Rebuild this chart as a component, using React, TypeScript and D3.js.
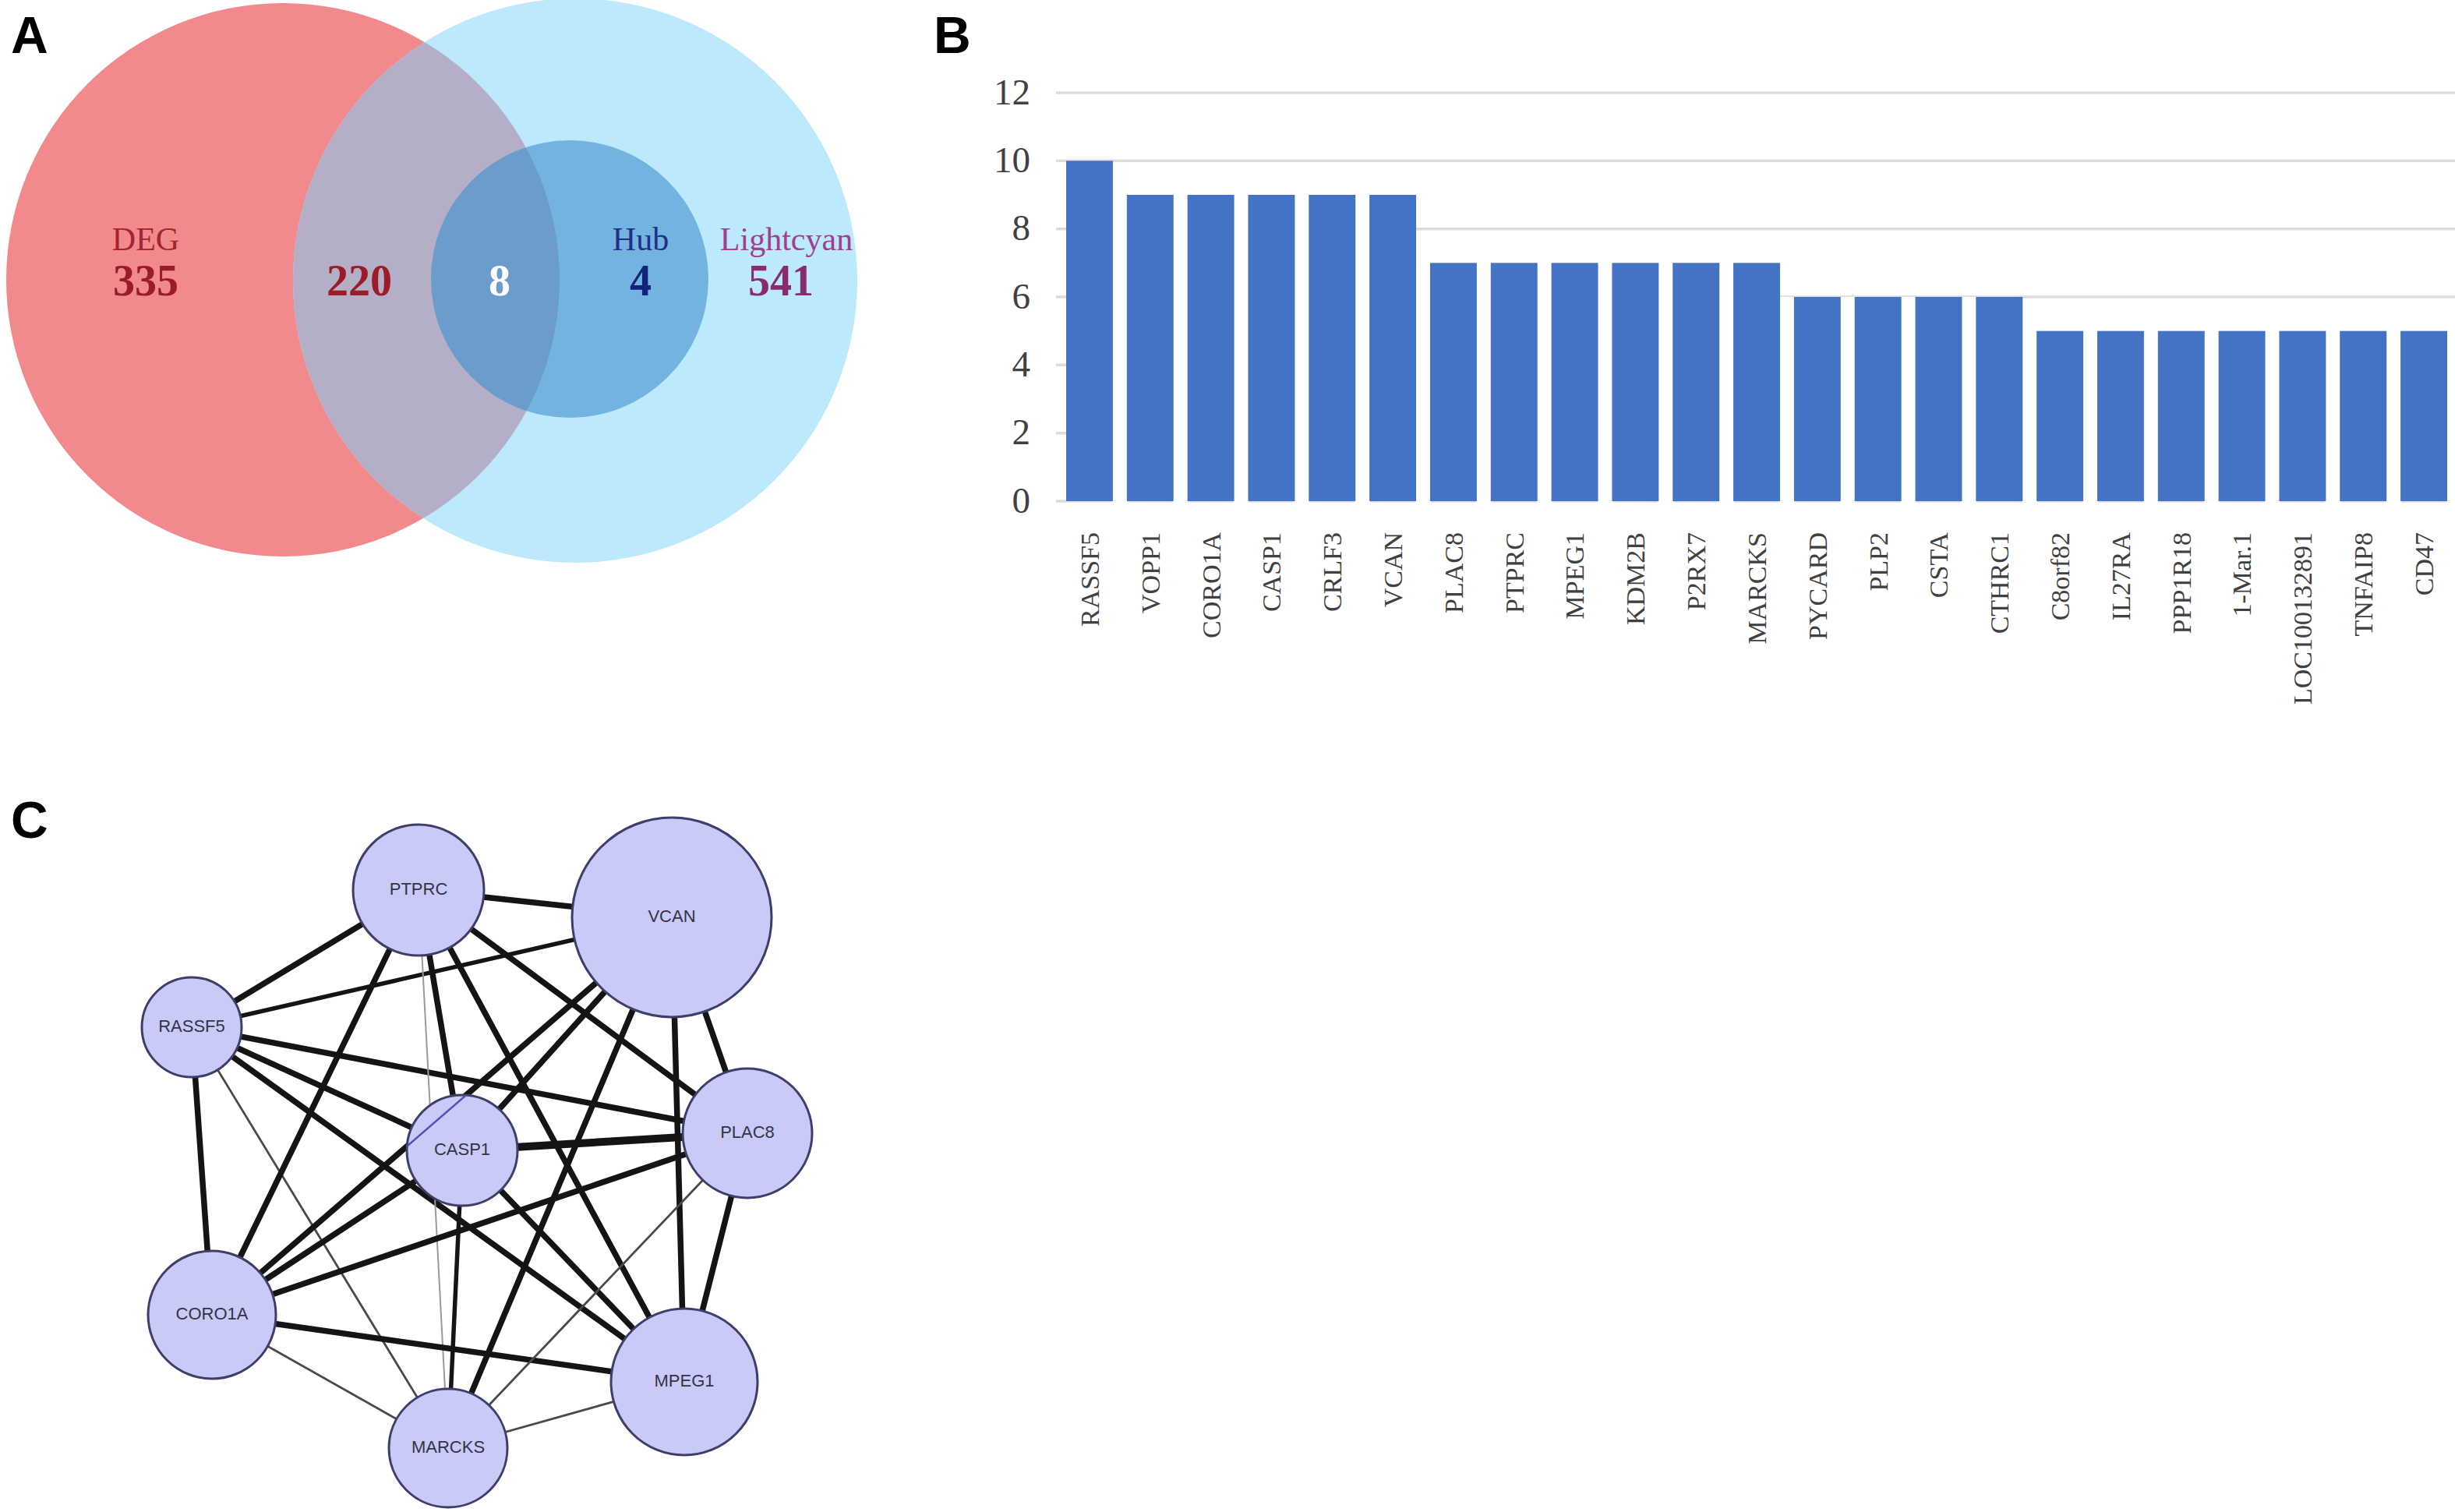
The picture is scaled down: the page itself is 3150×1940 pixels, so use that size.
import React from 'react';
import * as d3 from 'd3';

// ---------- Panel A data (Venn) ----------
const vennSetNames = ['DEG', 'Hub', 'Lightcyan'];
const vennRegionCounts = [335, 220, 8, 4, 541]; // DEG only, DEG∩LC, DEG∩Hub∩LC, Hub∩LC, LC only

// ---------- Panel B data (bar chart) ----------
const genes = [
  'RASSF5', 'VOPP1', 'CORO1A', 'CASP1', 'CRLF3', 'VCAN', 'PLAC8', 'PTPRC', 'MPEG1', 'KDM2B', 'P2RX7', 'MARCKS',
  'PYCARD', 'PLP2', 'CSTA', 'CTHRC1', 'C8orf82', 'IL27RA', 'PPP1R18', '1-Mar.1', 'LOC100132891', 'TNFAIP8', 'CD47',
];
const degrees = [10, 9, 9, 9, 9, 9, 7, 7, 7, 7, 7, 7, 6, 6, 6, 6, 5, 5, 5, 5, 5, 5, 5];
const yTicks = [0, 2, 4, 6, 8, 10, 12];

// ---------- Panel C data (network, layout units) ----------
const netNames = ['PTPRC', 'VCAN', 'RASSF5', 'CASP1', 'PLAC8', 'CORO1A', 'MPEG1', 'MARCKS'];
const netLayoutX = [537, 862, 246, 593, 959, 272, 878, 575];
const netLayoutY = [142, 177, 318, 476, 454, 687, 773, 858];
const netSize = [84, 128, 64, 71, 83, 82, 94, 76];
// [source, target, weight] weight: 4 very thick, 3 thick, 2 medium, 1 thin, 0 faint
const netEdges: [string, string, number][] = [
  ['PTPRC', 'VCAN', 3], ['PTPRC', 'RASSF5', 3], ['RASSF5', 'VCAN', 2], ['RASSF5', 'CORO1A', 3],
  ['RASSF5', 'PLAC8', 3], ['RASSF5', 'CASP1', 3], ['RASSF5', 'MPEG1', 3], ['RASSF5', 'MARCKS', 1],
  ['PTPRC', 'CORO1A', 3], ['PTPRC', 'MARCKS', 0], ['PTPRC', 'CASP1', 3], ['PTPRC', 'MPEG1', 3],
  ['PTPRC', 'PLAC8', 3], ['VCAN', 'CASP1', 3], ['VCAN', 'CORO1A', 3], ['VCAN', 'MARCKS', 3],
  ['VCAN', 'MPEG1', 3], ['VCAN', 'PLAC8', 3], ['CASP1', 'PLAC8', 4], ['CASP1', 'CORO1A', 3],
  ['CASP1', 'MPEG1', 3], ['CASP1', 'MARCKS', 2], ['CORO1A', 'PLAC8', 3], ['CORO1A', 'MPEG1', 3],
  ['CORO1A', 'MARCKS', 1], ['PLAC8', 'MPEG1', 3], ['PLAC8', 'MARCKS', 1], ['MPEG1', 'MARCKS', 1],
];

const SERIF = '"Liberation Serif", "Times New Roman", Times, serif';
const SANS = '"Liberation Sans", Arial, Helvetica, sans-serif';

function VennPanel() {
  const deg = { cx: 363, cy: 359, r: 355 };
  const lc = { cx: 738, cy: 360, r: 362 };
  const hub = { cx: 731, cy: 358, r: 178 };
  const labelY = 321;
  const numY = 379;
  return (
    <g>
      <defs>
        <clipPath id="clipDeg"><circle cx={deg.cx} cy={deg.cy} r={deg.r} /></clipPath>
      </defs>
      <circle cx={deg.cx} cy={deg.cy} r={deg.r} fill="#F1898D" />
      <circle cx={lc.cx} cy={lc.cy} r={lc.r} fill="#BCE9FB" />
      <circle cx={lc.cx} cy={lc.cy} r={lc.r} fill="#B4AFC7" clipPath="url(#clipDeg)" />
      <circle cx={hub.cx} cy={hub.cy} r={hub.r} fill="#72B3DF" />
      <circle cx={hub.cx} cy={hub.cy} r={hub.r} fill="#6C9CCB" clipPath="url(#clipDeg)" />
      <g fontFamily={SERIF} textAnchor="middle">
        <text x={187} y={labelY} fontSize={42} fill="#A3252F">{vennSetNames[0]}</text>
        <text x={187} y={numY} fontSize={56} fontWeight="bold" fill="#9A1C28">{vennRegionCounts[0]}</text>
        <text x={461} y={numY} fontSize={56} fontWeight="bold" fill="#9A1C28">{vennRegionCounts[1]}</text>
        <text x={641} y={numY} fontSize={56} fontWeight="bold" fill="#FFFFFF">{vennRegionCounts[2]}</text>
        <text x={822} y={labelY} fontSize={42} fill="#1F2F8A">{vennSetNames[1]}</text>
        <text x={822} y={numY} fontSize={56} fontWeight="bold" fill="#14237A">{vennRegionCounts[3]}</text>
        <text x={1009} y={labelY} fontSize={42} fill="#A23E8E">{vennSetNames[2]}</text>
        <text x={1002} y={numY} fontSize={56} fontWeight="bold" fill="#8A2B70">{vennRegionCounts[4]}</text>
      </g>
    </g>
  );
}

function BarPanel() {
  const x = d3.scaleBand<string>().domain(genes).range([1368, 3140]).paddingInner(0.23).paddingOuter(0);
  const y = d3.scaleLinear().domain([0, 12]).range([643, 119]);
  const labelTop = 683;
  const gap = x.step() - x.bandwidth();
  return (
    <g>
      {yTicks.map((t) => (
        <line key={'g' + t} x1={1355} x2={3150} y1={y(t)} y2={y(t)} stroke="#DCDCDC" strokeWidth={3.5} />
      ))}
      {/* white backing so gridlines stay hidden between bars below their tops */}
      {genes.map((g, i) => {
        const next = i < genes.length - 1 ? degrees[i + 1] : degrees[i];
        const top = Math.min(degrees[i], next);
        return (
          <rect key={'w' + g} x={(x(g) as number) + x.bandwidth() - 1} y={y(top)} width={gap + 2}
            height={y(0) - y(top) + 2} fill="#ffffff" />
        );
      })}
      {yTicks.map((t) => (
        <text key={'t' + t} x={1322} y={y(t) + 4} fontFamily={SERIF} fontSize={47} fill="#404040"
          textAnchor="end" dominantBaseline="middle">{t}</text>
      ))}
      {genes.map((g, i) => (
        <rect key={g} x={x(g)} y={y(degrees[i])} width={x.bandwidth()} height={y(0) - y(degrees[i])} fill="#4472C4" />
      ))}
      {genes.map((g) => (
        <text key={'l' + g} transform={`translate(${(x(g) as number) + x.bandwidth() / 2},${labelTop}) rotate(-90)`}
          fontFamily={SERIF} fontSize={34} fill="#404040" textAnchor="end" dy="0.35em">{g}</text>
      ))}
    </g>
  );
}

function NetworkPanel() {
  const sx = d3.scaleLinear().domain([0, 1000]).range([0, 1000]);
  const sy = d3.scaleLinear().domain([0, 1000]).range([1000, 2000]);
  const idx = (n: string) => netNames.indexOf(n);
  const widthOf = (w: number) => (w === 4 ? 10 : w === 3 ? 7.5 : w === 2 ? 5.5 : w === 1 ? 2.8 : 2);
  const colorOf = (w: number) => (w >= 2 ? '#141414' : w === 1 ? '#4a4a4a' : '#9a9a9a');
  const ca = idx('CASP1');
  const vc = idx('VCAN');
  const co = idx('CORO1A');
  return (
    <g>
      <defs>
        <clipPath id="clipCasp">
          <circle cx={sx(netLayoutX[ca])} cy={sy(netLayoutY[ca])} r={netSize[ca]} />
        </clipPath>
      </defs>
      {netEdges.map(([a, b, w]) => {
        const i = idx(a), j = idx(b);
        return (
          <line key={a + b} x1={sx(netLayoutX[i])} y1={sy(netLayoutY[i])} x2={sx(netLayoutX[j])} y2={sy(netLayoutY[j])}
            stroke={colorOf(w)} strokeWidth={widthOf(w)} strokeLinecap="round" />
        );
      })}
      {netNames.map((n, i) => (
        <circle key={n} cx={sx(netLayoutX[i])} cy={sy(netLayoutY[i])} r={netSize[i]} fill="#CACAF8" stroke="#3E3E6A" strokeWidth={3} />
      ))}
      <line x1={sx(netLayoutX[vc])} y1={sy(netLayoutY[vc])} x2={sx(netLayoutX[co])} y2={sy(netLayoutY[co])}
        stroke="#5050B8" strokeWidth={2.5} clipPath="url(#clipCasp)" />
      {netNames.map((n, i) => (
        <text key={'t' + n} x={sx(netLayoutX[i])} y={sy(netLayoutY[i])} fontFamily={SANS} fontSize={22}
          fill="#333344" textAnchor="middle" dominantBaseline="middle">{n}</text>
      ))}
    </g>
  );
}

export default function App() {
  return (
    <svg width={3150} height={1940} viewBox="0 0 3150 1940"
      style={{ position: 'absolute', left: 0, top: 0, display: 'block', background: '#ffffff' }}>
      <rect x={0} y={0} width={3150} height={1940} fill="#ffffff" />
      <VennPanel />
      <BarPanel />
      <NetworkPanel />
      <g fontFamily={SANS} fontWeight="bold" fontSize={66} fill="#000">
        <text x={14} y={68}>A</text>
        <text x={1198} y={68}>B</text>
        <text x={14} y={1075}>C</text>
      </g>
    </svg>
  );
}
